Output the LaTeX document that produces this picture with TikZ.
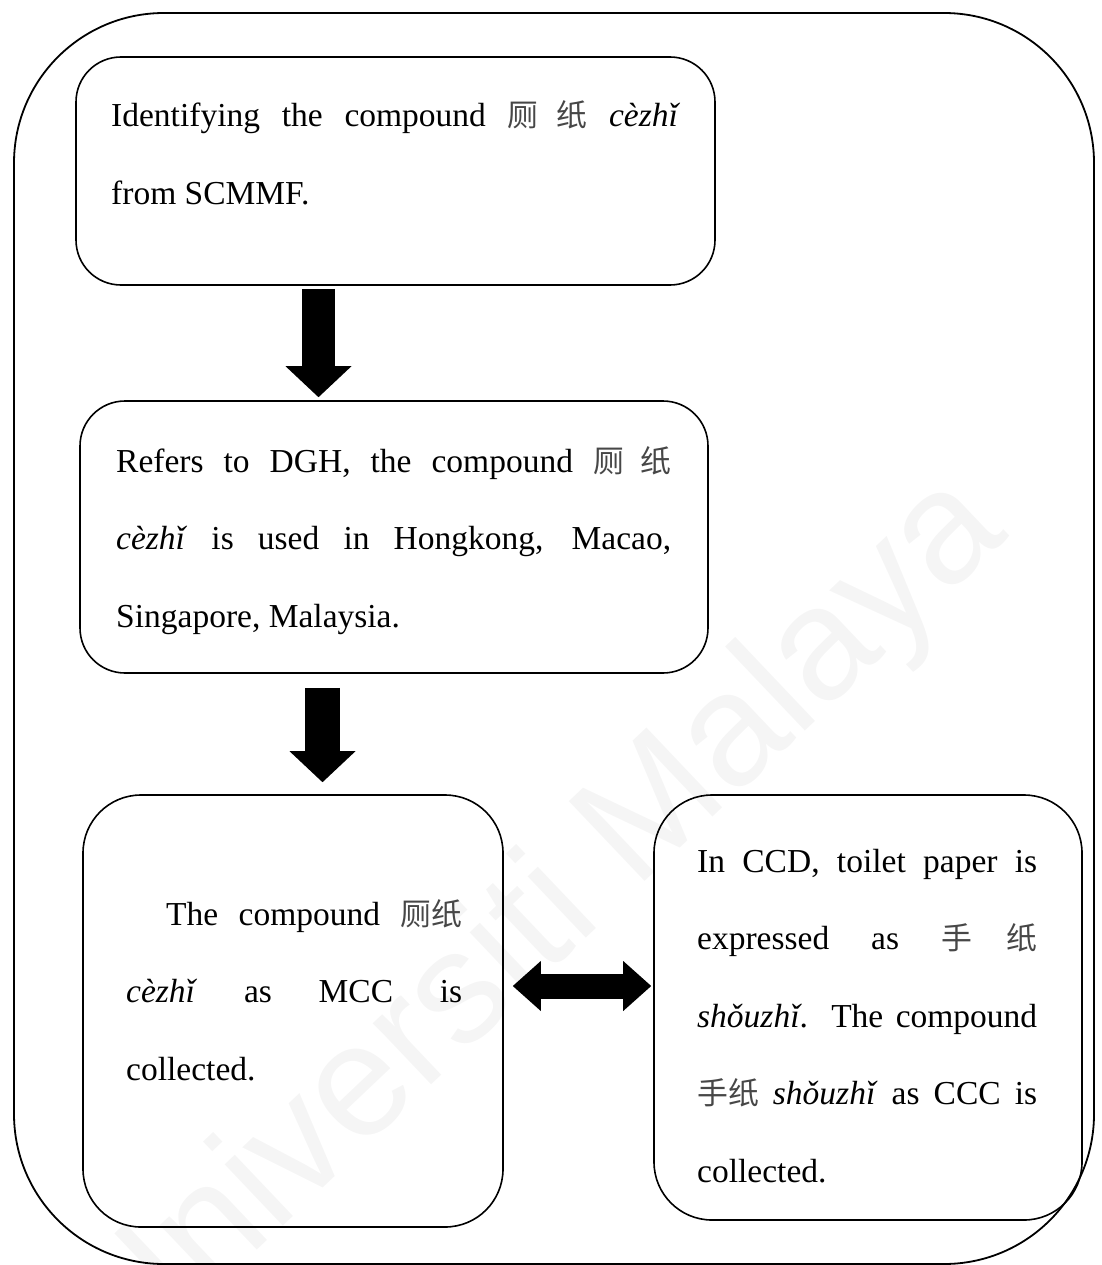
\documentclass[tikz,border=0pt]{standalone}
\usepackage{fontspec}
\setmainfont{Liberation Serif}
\newfontfamily\cjk{Noto Sans CJK SC}[Scale=0.92]
\newfontfamily\wmfont{Liberation Sans}
\usetikzlibrary{arrows.meta}
\newcommand\zh[1]{{\cjk\color{black!72}#1}}
\tikzset{
  frame/.style={draw, line width=1.8pt, rounded corners=150pt, inner sep=0pt},
  stepbox/.style={draw, line width=1.6pt, rounded corners=#1, inner sep=0pt},
  stepbox/.default=45pt,
  txt/.style={anchor=base west, inner sep=0pt, text width=#1, align=justify,
    font=\fontsize{33.5}{77.5}\selectfont},
  downarrow/.style={line width=#1, black,
    -{Triangle[length=31pt, width=66pt, line width=0pt]}},
  bothways/.style={line width=25pt, black,
    {Triangle[length=28pt, width=50pt, line width=0pt]}-{Triangle[length=28pt, width=50pt, line width=0pt]}},
}
\begin{document}
\begin{tikzpicture}[x=1pt, y=-1pt]
  \useasboundingbox (0,0) rectangle (1101,1265);

  % faint watermark behind everything
  \node[rotate=43.5, text=black!4, font=\wmfont\fontsize{160}{160}\selectfont, inner sep=0pt]
    (wm) at (540,925) {Universiti Malaya};

  % outer frame
  \node[frame, minimum width=1080pt, minimum height=1251pt] (outer) at (554,638.5) {};

  % step boxes
  \node[stepbox, minimum width=639pt, minimum height=228pt] (b1) at (395.5,171) {};
  \node[stepbox, minimum width=628pt, minimum height=272pt] (b2) at (394,537) {};
  \node[stepbox=58pt, minimum width=420pt, minimum height=432pt] (b3) at (293,1011) {};
  \node[stepbox=58pt, minimum width=428pt, minimum height=425pt] (b4) at (868,1007.5) {};

  % box texts
  \node[txt=569pt] (t1) at (111,127)
    {Identifying the compound \zh{厕 纸} \textit{cèzhǐ}\linebreak
     from SCMMF.};
  \node[txt=555pt] (t2) at (116,472)
    {Refers to DGH, the compound \zh{厕 纸}\linebreak
     \textit{cèzhǐ} is used in Hongkong, Macao,\linebreak
     Singapore, Malaysia.};
  \node[txt=336pt] (t3) at (126,925)
    {\hspace*{40pt}The compound \zh{厕纸}\linebreak
     \textit{cèzhǐ} as MCC is\linebreak
     collected.};
  \node[txt=340pt] (t4) at (697,872)
    {In CCD, toilet paper is\linebreak
     expressed as \zh{手 纸}\linebreak
     \textit{shǒuzhǐ}. The compound\linebreak
     \zh{手纸} \textit{shǒuzhǐ} as CCC is\linebreak
     collected.};

  % connectors
  \coordinate (ax1) at (318.5,0);
  \coordinate (ax2) at (322.5,0);
  \coordinate (mid) at (580,986);
  \draw[downarrow=33pt, shorten <=3pt, shorten >=3pt] (ax1 |- b1.south) -- (ax1 |- b2.north);
  \draw[downarrow=35pt, shorten <=14pt, shorten >=12pt] (ax2 |- b2.south) -- (ax2 |- b3.north);
  \draw[bothways, shorten <=9pt, shorten >=2pt] (mid -| b3.east) -- (mid -| b4.west);
\end{tikzpicture}
\end{document}
